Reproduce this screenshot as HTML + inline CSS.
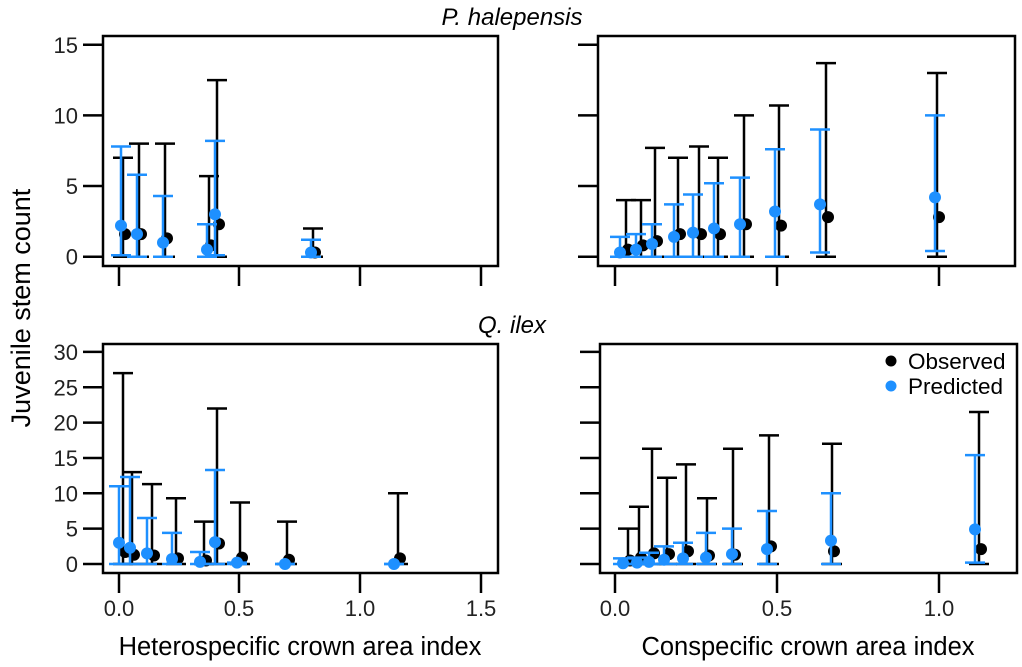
<!DOCTYPE html>
<html><head><meta charset="utf-8"><style>
html,body{margin:0;padding:0;background:#fff;}
svg{display:block;font-family:"Liberation Sans",Arial,sans-serif;}
</style></head><body>
<svg id="s" width="1022" height="667" viewBox="0 0 1022 667" xmlns="http://www.w3.org/2000/svg">
<text x="512" y="25" font-size="24" font-style="italic" text-anchor="middle">P. halepensis</text>
<text x="512" y="333" font-size="24" font-style="italic" text-anchor="middle">Q. ilex</text>
<text transform="translate(30,308) rotate(-90)" font-size="27" text-anchor="middle">Juvenile stem count</text>
<text x="300" y="655" font-size="25.5" text-anchor="middle">Heterospecific crown area index</text>
<text x="808" y="655" font-size="25.5" text-anchor="middle">Conspecific crown area index</text>
<circle cx="891" cy="361" r="5.5" fill="#000"/>
<text x="908" y="369" font-size="22.5">Observed</text>
<circle cx="891" cy="386" r="5.5" fill="#1e90ff"/>
<text x="908" y="394" font-size="22.5">Predicted</text>
</svg>
<script>
var s=document.getElementById('s'),NS='http://www.w3.org/2000/svg';
function el(t,a,txt){var e=document.createElementNS(NS,t);for(var k in a)e.setAttribute(k,a[k]);if(txt!=null)e.textContent=txt;s.appendChild(e);return e;}
function line(x1,y1,x2,y2,c,w){el('line',{x1:x1,y1:y1,x2:x2,y2:y2,stroke:c,'stroke-width':w||2.5});}
var BL='#1e90ff';
function panel(P){
  el('rect',{x:P.l,y:P.t,width:P.r-P.l,height:P.b-P.t,fill:'none',stroke:'#000','stroke-width':2.5});
  P.yt.forEach(function(v){var y=P.y0-v*P.ys;line(P.l-20,y,P.l,y,'#000',2.5);
    if(P.ylab)el('text',{x:P.l-25,y:y+8,'font-size':22,'text-anchor':'end',fill:'#222'},String(v));});
  P.xt.forEach(function(t){line(t[0],P.b,t[0],P.b+20,'#000',2.5);
    if(P.xlab)el('text',{x:t[0],y:P.b+43,'font-size':22,'text-anchor':'middle',fill:'#222'},t[1]);});
  function Y(v){return P.y0-v*P.ys;}
  P.k.forEach(function(d){line(d[0],Y(0),d[0],Y(d[1]),'#000');line(d[0]-10,Y(d[1]),d[0]+10,Y(d[1]),'#000');line(d[0]-10,Y(0),d[0]+10,Y(0),'#000');});
  P.k.forEach(function(d){el('circle',{cx:d[0]+2,cy:Y(d[2]),r:6,fill:'#000'});});
  P.b2.forEach(function(d){var lo=d[3]||0;line(d[0],Y(lo),d[0],Y(d[1]),BL);line(d[0]-10,Y(d[1]),d[0]+10,Y(d[1]),BL);line(d[0]-10,Y(lo),d[0]+10,Y(lo),BL);});
  P.b2.forEach(function(d){el('circle',{cx:d[0],cy:Y(d[2]),r:6,fill:BL});});
}
var xl=[[119,'0.0'],[239,'0.5'],[360,'1.0'],[481,'1.5']];
var xr=[[615,'0.0'],[777,'0.5'],[939,'1.0']];
panel({l:103,r:498,t:36,b:266,y0:256.7,ys:14.13,yt:[0,5,10,15],ylab:true,xt:xl,xlab:false,
 k:[[123,7,1.6],[139,8,1.6],[165,8,1.3],[209,5.7,0.8],[217,12.5,2.3],[313,2,0.3]],
 b2:[[121,7.8,2.2,0.1],[137,5.8,1.6],[163,4.3,1.0],[207,2.3,0.5],[215,8.2,3.0,0.1],[311,1.2,0.3]]});
panel({l:598,r:1015,t:36,b:266,y0:256.7,ys:14.13,yt:[0,5,10,15],ylab:false,xt:xr,xlab:false,
 k:[[626,4,0.5],[641,4,0.8],[655,7.7,1.1],[678,7,1.6],[699,7.8,1.6],[718,7,1.6],[744,10,2.3],[779,10.7,2.2],[826,13.7,2.8],[937,13,2.8]],
 b2:[[620,1.4,0.3],[636,1.6,0.5],[652,2.3,0.9],[674,3.7,1.4],[693,4.4,1.7],[714,5.2,2.0],[740,5.6,2.3],[775,7.6,3.2],[820,9,3.7,0.3],[935,10,4.2,0.4]]});
panel({l:103,r:498,t:344,b:573,y0:564,ys:7.07,yt:[0,5,10,15,20,25,30],ylab:true,xt:xl,xlab:true,
 k:[[123,27,1.7],[132,13,1.3],[152,11.3,1.2],[176,9.3,0.8],[204,6,0.5],[217,22,2.9],[240,8.7,0.9],[287,6,0.6],[398,10,0.8]],
 b2:[[119,11,3],[130,12.3,2.3],[147,6.5,1.5],[172,4.4,0.7],[200,1.7,0.3],[215,13.3,3.1],[237,0.2,0.2],[285,0,0],[394,0,0]]});
panel({l:600,r:1017,t:344,b:573,y0:564,ys:7.07,yt:[0,5,10,15,20,25,30],ylab:false,xt:xr,xlab:true,
 k:[[628,5,0.5],[639,8.1,0.9],[652,16.3,1.5],[667,12.2,1.4],[686,14.1,1.8],[707,9.3,1.2],[733,16.3,1.3],[769,18.2,2.5],[832,17,1.8],[979,21.5,2.1]],
 b2:[[623,0.8,0.1],[637,0.9,0.2],[649,1.6,0.3],[664,2.5,0.6],[683,3,0.8],[706,4.4,0.9],[732,5,1.4],[767,7.5,2.1],[831,10,3.3],[975,15.4,4.9,0.2]]});
</script>
</body></html>
